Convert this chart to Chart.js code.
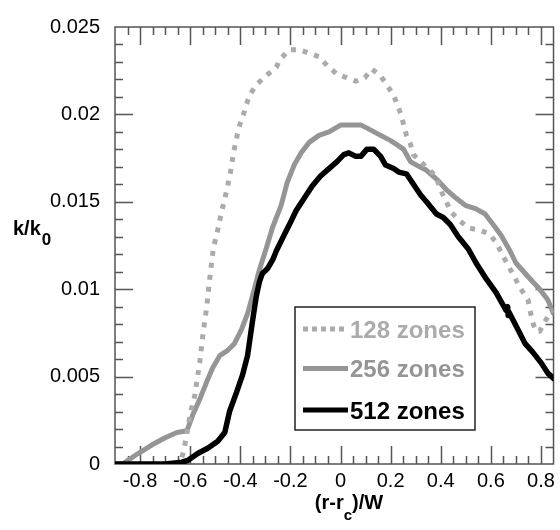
<!DOCTYPE html>
<html><head><meta charset="utf-8">
<script src="https://cdn.jsdelivr.net/npm/chart.js@4.4.1/dist/chart.umd.min.js"></script>
<style>html,body{margin:0;padding:0;background:#fff}#wrap{width:560px;height:530px}</style>
</head><body><div id="wrap"><canvas id="c" width="560" height="530"></canvas></div>
<script>
// ---- data ----
const seriesNames = ['128 zones', '256 zones', '512 zones'];

const x128 = [-0.9,-0.7,-0.64,-0.625,-0.61,-0.598,-0.582,-0.562,-0.55,-0.534,-0.522,-0.508,-0.49,-0.475,-0.455,-0.439,-0.427,-0.411,-0.4,-0.387,-0.375,-0.363,-0.336,-0.29,-0.256,-0.244,-0.205,-0.165,-0.125,-0.086,-0.054,-0.014,0.025,0.061,0.097,0.125,0.16,0.184,0.212,0.228,0.244,0.252,0.263,0.279,0.291,0.327,0.379,0.402,0.422,0.442,0.47,0.51,0.549,0.589,0.621,0.648,0.668,0.69,0.72,0.748,0.756,0.767,0.779,0.795,0.81,0.83,0.85];
const y128 = [0,0,0,0.0008,0.002,0.003,0.0039,0.0058,0.0073,0.009,0.0106,0.0123,0.0134,0.0144,0.0156,0.0167,0.0178,0.0189,0.0195,0.02,0.0206,0.0211,0.0217,0.0223,0.0227,0.0231,0.0237,0.0237,0.0235,0.0233,0.0228,0.0223,0.0221,0.0219,0.0221,0.0226,0.0222,0.0217,0.0211,0.0205,0.0199,0.0194,0.0188,0.0183,0.0177,0.0172,0.0165,0.0156,0.015,0.0144,0.014,0.0135,0.0134,0.0132,0.0127,0.0119,0.0114,0.0108,0.01,0.0094,0.0088,0.0081,0.0076,0.0076,0.008,0.0085,0.0088];

const x256 = [-0.9,-0.87,-0.86,-0.808,-0.752,-0.7,-0.653,-0.613,-0.59,-0.562,-0.534,-0.51,-0.482,-0.45,-0.423,-0.395,-0.371,-0.344,-0.324,-0.295,-0.272,-0.237,-0.213,-0.185,-0.157,-0.125,-0.086,-0.046,0.002,0.041,0.081,0.121,0.16,0.2,0.232,0.252,0.279,0.303,0.343,0.383,0.422,0.462,0.498,0.541,0.577,0.609,0.64,0.676,0.7,0.756,0.795,0.827,0.85];
const y256 = [0,0,0.0001,0.0006,0.0011,0.0015,0.0018,0.0019,0.0028,0.0037,0.0047,0.0055,0.0062,0.0065,0.0069,0.0077,0.0086,0.01,0.0111,0.0124,0.0135,0.0148,0.0161,0.0171,0.0178,0.0184,0.0188,0.019,0.0194,0.0194,0.0194,0.0191,0.0188,0.0185,0.0182,0.018,0.0173,0.0171,0.0168,0.0163,0.0157,0.0152,0.0148,0.0146,0.0143,0.0137,0.0131,0.0122,0.0115,0.0106,0.01,0.0094,0.0086];

const x512 = [-0.9,-0.7,-0.633,-0.61,-0.57,-0.53,-0.49,-0.462,-0.443,-0.415,-0.391,-0.371,-0.352,-0.336,-0.324,-0.312,-0.29,-0.27,-0.256,-0.225,-0.197,-0.177,-0.145,-0.113,-0.078,-0.046,-0.014,0.013,0.033,0.061,0.081,0.105,0.133,0.16,0.18,0.212,0.232,0.263,0.291,0.319,0.343,0.383,0.41,0.438,0.47,0.51,0.541,0.581,0.621,0.66,0.667,0.669,0.672,0.708,0.736,0.767,0.8,0.827,0.85];
const y512 = [0,0,0.0001,0.0002,0.0006,0.0009,0.0013,0.0018,0.003,0.0041,0.0051,0.0062,0.0081,0.0096,0.0104,0.0109,0.0112,0.0117,0.0122,0.0131,0.0139,0.0145,0.0152,0.0159,0.0165,0.0169,0.0173,0.0177,0.0178,0.0176,0.0176,0.018,0.018,0.0176,0.0171,0.0169,0.0167,0.0166,0.016,0.0154,0.015,0.0143,0.0141,0.0137,0.013,0.0123,0.0115,0.0106,0.0098,0.0088,0.009,0.0085,0.0087,0.0077,0.0069,0.0064,0.0058,0.0052,0.0049];

const xTicks = [-0.8,-0.6,-0.4,-0.2,0,0.2,0.4,0.6,0.8];
const xTickLabels = ['-0.8','-0.6','-0.4','-0.2','0','0.2','0.4','0.6','0.8'];
const yTicks = [0,0.005,0.01,0.015,0.02,0.025];
const yTickLabels = ['0','0.005','0.01','0.015','0.02','0.025'];

// ---- helpers ----
const pts = (xs, ys) => xs.map((x, i) => ({x: x, y: ys[i]}));
const FONT = "'Liberation Sans', Arial, sans-serif";
const nearestLabel = (ticks, labels, v) => {
  let best = 0;
  for (let i = 1; i < ticks.length; i++) if (Math.abs(ticks[i]-v) < Math.abs(ticks[best]-v)) best = i;
  return labels[best];
};

const framePlugin = {
  id: 'frame',
  beforeDatasetsDraw(chart) {
    const {ctx, chartArea: a, scales: {x, y}} = chart;
    ctx.save();
    ctx.strokeStyle = '#555';
    ctx.lineWidth = 1.5;
    ctx.strokeRect(a.left, a.top, a.right - a.left, a.bottom - a.top);
    ctx.beginPath();
    const xmin = x.min, xmax = x.max;
    for (let i = 1; ; i++) {
      const v = xmin + i * 0.05;
      if (v > xmax - 1e-6) break;
      const px = Math.round(x.getPixelForValue(v)) + 0.5;
      const major = Math.abs(v / 0.2 - Math.round(v / 0.2)) < 1e-6;
      const L = major ? 18 : 8;
      ctx.moveTo(px, a.bottom); ctx.lineTo(px, a.bottom - L);
      ctx.moveTo(px, a.top); ctx.lineTo(px, a.top + L);
    }
    for (let i = 1; i < 25; i++) {
      const v = i * 0.001;
      const py = Math.round(y.getPixelForValue(v)) + 0.5;
      const L = (i % 5 === 0) ? 18 : 8;
      ctx.moveTo(a.left, py); ctx.lineTo(a.left + L, py);
      ctx.moveTo(a.right, py); ctx.lineTo(a.right - L, py);
    }
    ctx.stroke();
    ctx.restore();
  }
};

const legendPlugin = {
  id: 'customLegend',
  afterDatasetsDraw(chart) {
    const ctx = chart.ctx;
    ctx.save();
    ctx.fillStyle = '#fff';
    ctx.fillRect(295, 307, 180, 123);
    ctx.strokeStyle = '#222';
    ctx.lineWidth = 1.5;
    ctx.strokeRect(295, 307, 180, 123);
    const rows = [329, 368.5, 410];
    const textColors = ['#ababab', '#959595', '#000'];
    chart.data.datasets.forEach((ds, i) => {
      ctx.beginPath();
      ctx.strokeStyle = ds.borderColor;
      ctx.lineWidth = 5;
      ctx.lineCap = 'butt';
      ctx.setLineDash(ds.borderDash ? [5, 4] : []);
      ctx.moveTo(303, rows[i]); ctx.lineTo(348, rows[i]);
      ctx.stroke();
      ctx.setLineDash([]);
      ctx.fillStyle = textColors[i];
      ctx.font = 'bold 24px ' + FONT;
      ctx.textBaseline = 'alphabetic';
      ctx.textAlign = 'left';
      ctx.fillText(seriesNames[i], 350, rows[i] + 8.5);
    });
    ctx.restore();
  }
};

const titlePlugin = {
  id: 'axisTitles',
  afterDraw(chart) {
    const ctx = chart.ctx;
    ctx.save();
    ctx.fillStyle = '#000';
    ctx.textAlign = 'left';
    ctx.textBaseline = 'alphabetic';
    // y title k/k0
    ctx.font = 'bold 20px ' + FONT;
    ctx.fillText('k/k', 13, 235);
    const w1 = ctx.measureText('k/k').width;
    ctx.font = 'bold 17px ' + FONT;
    ctx.fillText('0', 13 + w1 + 1, 245);
    // x title (r-rc)/W
    ctx.font = 'bold 20px ' + FONT;
    const a = '(r-r', b = 'c', c = ')/W';
    const wa = ctx.measureText(a).width;
    const wc = ctx.measureText(c).width;
    ctx.font = 'bold 15px ' + FONT;
    const wb = ctx.measureText(b).width;
    const total = wa + wb + wc;
    let x0 = 349 - total / 2;
    ctx.font = 'bold 20px ' + FONT;
    ctx.fillText(a, x0, 509);
    ctx.font = 'bold 15px ' + FONT;
    ctx.fillText(b, x0 + wa, 520);
    ctx.font = 'bold 20px ' + FONT;
    ctx.fillText(c, x0 + wa + wb, 509);
    ctx.restore();
  }
};

new Chart(document.getElementById('c'), {
  type: 'line',
  data: {
    datasets: [
      {label: seriesNames[0], data: pts(x128, y128), borderColor: '#ababab', borderWidth: 5, borderDash: [5, 7], borderCapStyle: 'butt', pointRadius: 0, tension: 0, order: 1},
      {label: seriesNames[1], data: pts(x256, y256), borderColor: '#959595', borderWidth: 5, borderJoinStyle: 'round', borderCapStyle: 'round', pointRadius: 0, tension: 0, order: 2},
      {label: seriesNames[2], data: pts(x512, y512), borderColor: '#000', borderWidth: 5.5, borderJoinStyle: 'round', borderCapStyle: 'round', pointRadius: 0, tension: 0, order: 0}
    ]
  },
  options: {
    responsive: false,
    devicePixelRatio: 1,
    animation: false,
    events: [],
    layout: {padding: {top: 24, right: 4, left: 0, bottom: 0}},
    plugins: {legend: {display: false}, tooltip: {enabled: false}, title: {display: false}},
    scales: {
      x: {
        type: 'linear', min: -0.9, max: 0.85,
        grid: {display: false, drawTicks: false},
        border: {display: false},
        afterBuildTicks: s => { s.ticks = xTicks.map(v => ({value: v})); },
        afterFit: s => { s.height = 66; },
        ticks: {
          color: '#000', font: {family: FONT, size: 20}, padding: 5,
          maxRotation: 0, minRotation: 0, autoSkip: false,
          callback: v => nearestLabel(xTicks, xTickLabels, v)
        }
      },
      y: {
        type: 'linear', min: 0, max: 0.025,
        grid: {display: false, drawTicks: false},
        border: {display: false},
        afterBuildTicks: s => { s.ticks = yTicks.map(v => ({value: v})); },
        afterFit: s => { s.width = 115; },
        ticks: {
          color: '#000', font: {family: FONT, size: 20}, padding: 15,
          autoSkip: false,
          callback: v => nearestLabel(yTicks, yTickLabels, v)
        }
      }
    }
  },
  plugins: [framePlugin, legendPlugin, titlePlugin]
});
</script>
</body></html>
